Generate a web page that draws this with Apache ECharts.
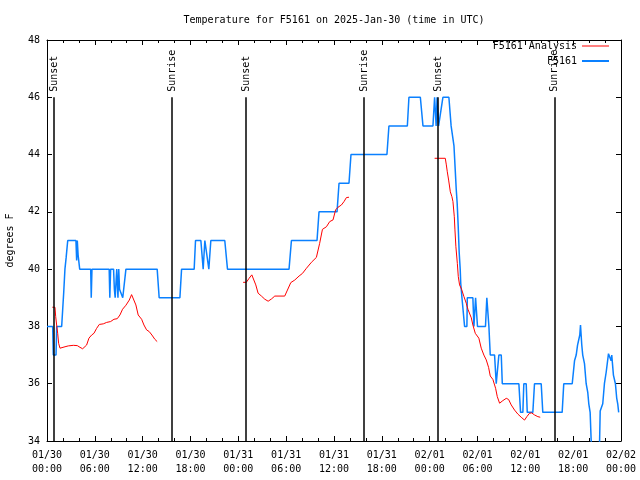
<!DOCTYPE html>
<html><head><meta charset="utf-8">
<script src="https://cdn.jsdelivr.net/npm/echarts@6/dist/echarts.min.js"></script>
<style>html,body{margin:0;padding:0;background:#fff}#c{width:640px;height:480px}</style>
</head><body><div id="c"></div>
<script>
const chartTitle = 'Temperature for F5161 on 2025-Jan-30 (time in UTC)';
const yAxisName = 'degrees F';
const seriesNames = ['F5161 Analysis', 'F5161'];
// x values: hours since 2025-01-30 00:00 UTC
const xTickLabels = ['01/30\n00:00','01/30\n06:00','01/30\n12:00','01/30\n18:00','01/31\n00:00','01/31\n06:00','01/31\n12:00','01/31\n18:00','02/01\n00:00','02/01\n06:00','02/01\n12:00','02/01\n18:00','02/02\n00:00'];
const sunHours = [0.88, 15.7, 24.97, 39.76, 49.04, 63.7];
const sunNames = ['Sunset','Sunrise','Sunset','Sunrise','Sunset','Sunrise'];

// observed temperature [hour, degF]
const obsData = [[0.0,38],[0.71,38],[0.79,37],[1.13,37],[1.22,38],[1.84,38],[1.97,38.6],[2.1,39.2],[2.25,40],[2.4,40.4],[2.6,41],[3.63,41],[3.72,40.3],[3.8,41],[3.9,40.5],[4.1,40],[5.48,40],[5.55,39],[5.64,40],[7.8,40],[7.88,39],[7.98,40],[8.35,40],[8.45,39.3],[8.55,39],[8.65,39],[8.75,40],[8.9,39],[9.0,40],[9.1,39.3],[9.5,39],[9.75,39],[9.9,40],[13.82,40],[14.07,39],[16.67,39],[16.88,40],[18.46,40],[18.63,41],[19.3,41],[19.59,40],[19.8,41],[20.01,41],[20.3,40],[20.55,41],[22.3,41],[22.64,40],[30.36,40],[30.66,41],[33.87,41],[34.12,42],[36.38,42],[36.63,43],[37.88,43],[38.13,44],[42.64,44],[42.89,45],[45.2,45],[45.4,46],[46.83,46],[47.16,45],[48.41,45],[48.62,46],[48.81,45],[48.93,46],[49.12,45],[49.37,45],[49.66,46],[50.41,46],[50.69,45],[50.88,45],[51.05,44.3],[51.2,43.5],[51.33,42.8],[51.45,42.3],[51.58,41.5],[51.7,40.6],[51.83,40],[51.9,39.5],[52.05,39],[52.13,39],[52.38,38],[52.67,38],[52.72,39],[53.42,39],[53.55,38],[53.76,39],[53.88,39],[54.0,38],[55.0,38],[55.17,39],[55.3,39],[55.43,38],[55.6,37],[56.14,37],[56.35,36],[56.68,37],[56.98,37],[57.11,36],[59.19,36],[59.4,35],[59.69,35],[59.81,36],[60.11,36],[60.24,35],[60.94,35],[61.15,36],[61.99,36],[62.19,35],[64.62,35],[64.82,36],[65.88,36],[66.17,36.8],[66.38,37],[66.55,37.35],[66.73,37.35],[66.83,37.7],[66.92,38.05],[67.0,38.05],[67.08,37.35],[67.2,37],[67.42,36.7],[67.63,36],[67.83,35.7],[67.96,35.3],[68.13,35],[68.26,34],[68.5,33.6],[69.0,33.5],[69.3,33.8],[69.39,35.05],[69.71,35.3],[69.92,36],[70.14,36.4],[70.43,37.05],[70.68,37.05],[70.76,36.8],[70.84,37],[71.05,36.3],[71.3,36],[71.46,35.5],[71.59,35.3],[71.71,35]];

// analysis temperature [hour, degF], null = gap
const analysisData = [[0.67,38.67],[1.0,38.67],[1.09,38.34],[1.21,38.05],[1.34,37.76],[1.46,37.41],[1.63,37.24],[1.88,37.24],[2.26,37.29],[2.67,37.32],[3.3,37.34],[3.8,37.33],[4.14,37.27],[4.47,37.22],[4.72,37.21],[4.97,37.35],[5.26,37.59],[5.6,37.7],[5.89,37.76],[6.22,37.93],[6.56,38.07],[7.06,38.09],[7.48,38.14],[7.98,38.17],[8.4,38.25],[8.81,38.27],[9.15,38.4],[9.48,38.6],[9.9,38.74],[10.32,38.92],[10.61,39.11],[10.86,39.1],[11.15,38.75],[11.44,38.4],[11.87,38.25],[12.16,38.05],[12.49,37.88],[12.82,37.82],[13.16,37.7],[13.53,37.55],[13.82,37.47],
[14.0,null],
[24.6,39.54],[25.0,39.54],[25.35,39.68],[25.69,39.8],[25.9,39.75],[26.19,39.45],[26.48,39.16],[26.9,39.06],[27.32,38.95],[27.74,38.88],[28.16,38.96],[28.57,39.06],[29.82,39.06],[30.16,39.27],[30.58,39.53],[31.08,39.62],[31.62,39.76],[32.04,39.85],[32.54,40.03],[33.17,40.24],[33.79,40.41],[33.9,40.44],[34.2,40.9],[34.55,41.39],[35.05,41.48],[35.46,41.66],[35.88,41.72],[36.2,42.07],[36.5,42.16],[36.93,42.24],[37.26,42.36],[37.56,42.5],[37.88,42.51],
[38.0,null],
[48.62,43.87],[49.96,43.87],[50.09,43.64],[50.21,43.4],[50.38,43.11],[50.59,42.7],[50.79,42.53],[50.92,42.36],[51.09,41.83],[51.17,41.37],[51.29,40.78],[51.47,40.2],[51.59,39.74],[51.75,39.45],[52.0,39.3],[52.3,39.04],[52.59,38.81],[52.8,38.6],[52.9,38.57],[53.22,38.3],[53.42,38.05],[53.72,37.76],[54.17,37.59],[54.47,37.24],[54.8,37.0],[55.1,36.83],[55.39,36.57],[55.6,36.27],[55.93,36.15],[56.27,35.84],[56.48,35.55],[56.77,35.32],[57.18,35.41],[57.61,35.49],[57.9,35.45],[58.23,35.26],[58.65,35.08],[59.06,34.94],[59.48,34.83],[59.9,34.73],[60.19,34.85],[60.53,34.97],[60.8,34.98],[61.15,34.91],[61.57,34.85],[61.87,34.83]];

const FONT = "'DejaVu Sans Mono', 'Liberation Mono', monospace";
const X_MIN = 0, X_MAX = 72, X_INT = 6;
const Y_MIN = 34, Y_MAX = 48, Y_INT = 2;
const SUN_TOP = 46;

const chart = echarts.init(document.getElementById('c'), null, {renderer: 'canvas'});
const axisCommon = {
  axisLine: {show: true, onZero: false, lineStyle: {color: '#000', width: 1}},
  axisTick: {show: true, inside: true, length: 5, lineStyle: {color: '#000'}},
  splitLine: {show: false}
};
const xBase = Object.assign({}, axisCommon, {
  type: 'value', min: X_MIN, max: X_MAX, interval: X_INT,
  minorTick: {show: true, splitNumber: 3, length: 3, lineStyle: {color: '#000'}}
});
const yBase = Object.assign({}, axisCommon, {
  type: 'value', min: Y_MIN, max: Y_MAX, interval: Y_INT
});
const legendText = {fontFamily: FONT, fontSize: 10, color: '#000'};

const option = {
  animation: false,
  backgroundColor: '#fff',
  title: {
    text: chartTitle, left: 334, top: 15, textAlign: 'center', padding: 0,
    textStyle: {fontFamily: FONT, fontSize: 10, fontWeight: 'normal', color: '#000'}
  },
  grid: {left: 47, right: 19, top: 40, bottom: 39, containLabel: false, outerBoundsMode: 'none'},
  legend: [
    {data: [seriesNames[0]], right: 31, top: 41, align: 'right', icon: 'rect', itemWidth: 27, itemHeight: 1,
     padding: 0, textStyle: legendText},
    {data: [seriesNames[1]], right: 31, top: 56, align: 'right', icon: 'rect', itemWidth: 27, itemHeight: 2,
     padding: 0, textStyle: legendText}
  ],
  xAxis: [
    Object.assign({}, xBase, {position: 'bottom',
      axisLabel: {show: true, margin: 7, fontFamily: FONT, fontSize: 10, color: '#000', lineHeight: 14,
        formatter: v => xTickLabels[Math.round((v - X_MIN) / X_INT)] || ''}}),
    Object.assign({}, xBase, {position: 'top', axisLabel: {show: false}})
  ],
  yAxis: [
    Object.assign({}, yBase, {position: 'left', name: yAxisName, nameLocation: 'middle', nameGap: 32,
      nameTextStyle: {fontFamily: FONT, fontSize: 10, color: '#000'},
      axisLabel: {show: true, margin: 7, fontFamily: FONT, fontSize: 10, color: '#000'}}),
    Object.assign({}, yBase, {position: 'right', axisLabel: {show: false}})
  ],
  series: [
    {
      name: seriesNames[0], type: 'line', data: analysisData, showSymbol: false, symbol: 'none',
      connectNulls: false, lineStyle: {color: '#ff0000', width: 1}, itemStyle: {color: '#ff0000'}, z: 4
    },
    {
      name: seriesNames[1], type: 'line', data: obsData, showSymbol: false, symbol: 'none',
      lineStyle: {color: '#0a80ff', width: 1.5}, itemStyle: {color: '#0a80ff'}, z: 3
    },
    {
      name: 'sun', type: 'scatter', symbol: 'circle', symbolSize: 1,
      itemStyle: {color: 'rgba(0,0,0,0)'}, silent: true, z: 5,
      data: sunHours.map((h, i) => ({value: [h, SUN_TOP], name: sunNames[i]})),
      label: {show: true, formatter: p => p.name, position: 'top', distance: 5, rotate: 90,
        align: 'left', verticalAlign: 'middle', fontFamily: FONT, fontSize: 10, color: '#000', opacity: 1},
      markLine: {
        silent: true, symbol: 'none', animation: false,
        lineStyle: {color: '#000', width: 1.5, type: 'solid'},
        label: {show: false},
        data: sunHours.map(h => [{coord: [h, SUN_TOP]}, {coord: [h, Y_MIN]}])
      }
    }
  ]
};
chart.setOption(option);
</script>
</body></html>
